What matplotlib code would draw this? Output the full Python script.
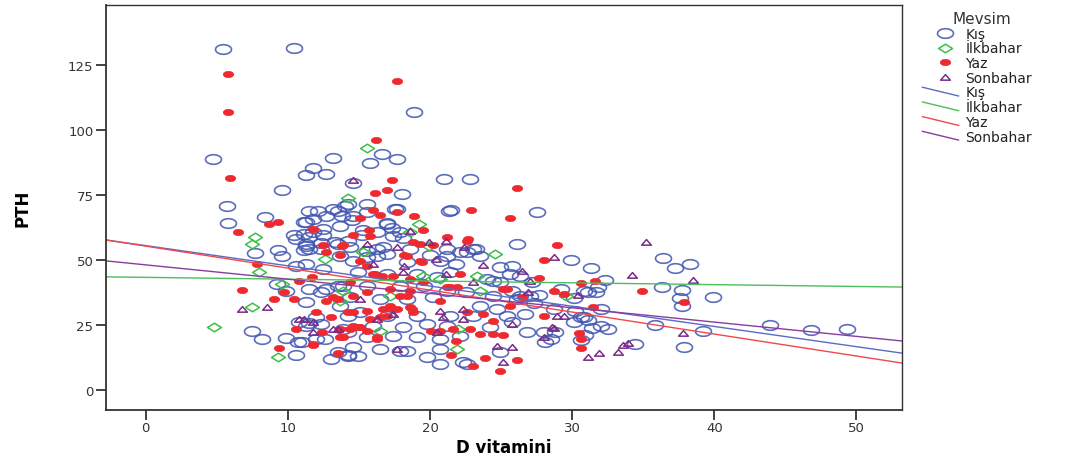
import numpy as np
import matplotlib.pyplot as plt
from matplotlib.path import Path
from matplotlib.lines import Line2D
from matplotlib.legend_handler import HandlerBase

# D vitamini / PTH values per season
kis_x = [5.4, 10.4, 18.9, 4.7, 13.2, 11.8, 11.3, 12.7, 9.6, 5.7, 5.8, 16.6, 15.8, 17.7, 14.6, 18.0,
         15.6, 8.4, 21.0, 22.8, 17.7, 21.3, 11.3, 11.8, 12.1, 12.7, 13.5, 13.8, 10.4, 10.6, 11.1, 11.5,
         11.3, 12.3, 12.5, 14.2, 13.3, 9.3, 7.7, 11.5, 11.1, 14.0, 15.6, 17.5, 21.5, 27.5, 14.5, 17.0,
         17.3, 15.3, 17.4, 18.1, 26.1, 14.2, 15.2, 16.3, 17.0, 20.0, 21.2, 22.6, 23.2, 9.6, 9.2, 9.9,
         11.3, 7.5, 8.2, 9.9, 10.7, 10.8, 11.5, 12.0, 12.6, 13.5, 14.2, 10.6, 11.3, 12.5, 11.5, 12.3,
         12.7, 13.5, 13.7, 14.2, 13.9, 13.7, 14.6, 15.6, 16.3, 18.4, 20.7, 21.8, 23.5, 25.8, 14.9, 17.0,
         19.1, 20.5, 21.4, 24.4, 26.3, 27.2, 13.9, 15.6, 17.9, 19.6, 21.2, 22.5, 24.4, 26.3, 14.4, 16.5,
         18.4, 20.2, 23.5, 24.7, 25.4, 26.7, 15.1, 17.0, 19.1, 21.4, 23.0, 16.0, 18.1, 19.8, 21.2, 24.2,
         25.8, 26.8, 14.2, 15.6, 17.4, 19.1, 20.7, 22.1, 14.6, 16.5, 18.4, 20.7, 19.8, 22.6, 14.2, 24.9,
         36.4, 29.9, 31.3, 37.2, 38.3, 32.3, 36.3, 37.7, 39.9, 37.6, 37.7, 27.7, 30.8, 31.7, 30.1, 27.3,
         30.2, 30.6, 31.1, 32.0, 32.5, 31.4, 35.8, 39.2, 28.0, 28.8, 28.5, 30.6, 30.9, 34.4, 37.9, 28.1,
         43.9, 46.8, 49.3, 11.5, 13.2, 14.6, 17.0, 16.3, 17.9, 11.1, 11.8, 12.5, 13.7, 11.3, 12.3, 13.5,
         14.4, 15.6, 16.7, 18.6, 21.2, 22.1, 23.0, 24.9, 25.6, 24.0, 24.9, 25.8, 27.0, 26.1, 29.2, 31.1,
         31.8, 32.0, 30.8, 30.1, 28.7, 22.3, 17.9, 14.9, 12.0, 11.0, 11.3, 12.3, 10.6, 13.0, 20.7]
kis_y = [131.2, 131.5, 106.9, 88.8, 89.2, 85.4, 82.7, 83.1, 76.9, 70.8, 64.2, 90.8, 87.3, 88.8, 79.6, 75.4,
         71.5, 66.5, 81.2, 81.2, 69.6, 68.8, 64.6, 65.8, 68.8, 66.9, 68.8, 66.9, 59.6, 58.1, 60.0, 58.8,
         56.2, 56.5, 59.6, 71.5, 56.9, 53.8, 52.7, 54.2, 53.8, 70.8, 68.5, 69.6, 69.2, 68.5, 65.4, 64.2,
         62.3, 61.5, 59.2, 58.5, 56.2, 57.3, 59.6, 54.2, 52.3, 51.9, 51.5, 53.1, 54.2, 51.5, 40.8, 38.1,
         33.8, 22.7, 19.6, 20.0, 18.5, 26.2, 25.8, 28.1, 19.6, 14.6, 13.5, 47.7, 48.5, 46.5, 38.8, 37.7,
         38.8, 40.0, 32.3, 28.5, 23.5, 51.5, 49.6, 51.2, 51.5, 49.2, 49.6, 48.5, 51.5, 47.7, 45.4, 44.6,
         44.6, 43.5, 45.4, 41.9, 43.8, 41.5, 40.0, 40.0, 40.0, 40.0, 38.1, 37.7, 36.2, 36.2, 35.8, 35.0,
         35.0, 35.8, 32.3, 31.2, 28.5, 29.2, 30.0, 28.5, 28.5, 28.5, 28.5, 24.6, 24.2, 25.4, 24.6, 24.2,
         26.2, 22.3, 22.3, 20.4, 20.8, 20.4, 19.6, 20.8, 16.5, 15.8, 15.0, 15.8, 12.7, 10.0, 13.1, 14.6,
         50.8, 50.0, 46.9, 46.9, 48.5, 42.3, 39.6, 38.5, 35.8, 35.4, 32.3, 36.5, 38.1, 37.7, 35.4, 33.5,
         30.4, 28.1, 26.9, 24.6, 23.5, 23.8, 25.0, 22.7, 22.3, 22.3, 19.6, 19.2, 21.2, 17.7, 16.5, 18.5,
         25.0, 23.1, 23.5, 68.8, 69.6, 66.9, 63.8, 60.8, 60.8, 64.6, 60.8, 61.9, 63.1, 55.4, 54.2, 56.2,
         55.0, 53.5, 55.0, 54.2, 54.2, 53.1, 54.2, 47.3, 44.6, 42.7, 41.5, 38.1, 36.2, 35.0, 38.8, 37.7,
         39.6, 31.2, 28.1, 26.2, 31.2, 10.8, 15.0, 13.1, 19.6, 18.5, 24.6, 25.4, 13.5, 11.9, 10.0]

ilk_x = [15.6, 14.2, 19.2, 7.7, 7.5, 18.6, 24.6, 15.3, 19.9, 8.0, 9.6, 7.5, 4.8, 9.3, 13.9, 23.3,
         23.5, 17.2, 22.0, 21.9, 16.5, 13.7, 19.5, 20.7, 12.6, 29.6]
ilk_y = [93.1, 73.8, 63.8, 58.8, 56.2, 60.8, 52.3, 53.1, 55.4, 45.4, 40.8, 31.9, 24.2, 12.7, 38.1, 43.8,
         38.1, 36.2, 23.5, 15.8, 22.7, 34.2, 43.8, 42.7, 50.4, 36.2]

yaz_x = [5.8, 17.7, 5.8, 5.9, 16.2, 17.3, 16.1, 17.0, 16.0, 16.5, 17.7, 18.9, 8.7, 9.3, 15.1, 6.5,
         11.8, 12.5, 13.8, 12.7, 13.7, 19.5, 26.1, 22.9, 25.6, 15.7, 14.6, 21.2, 18.8, 19.3, 20.2, 18.2,
         13.9, 7.8, 6.8, 9.0, 10.4, 9.7, 10.6, 12.0, 12.4, 11.8, 9.4, 13.5, 13.7, 13.0, 13.5, 12.7,
         19.4, 22.1, 16.0, 14.4, 18.6, 21.4, 17.4, 18.7, 17.0, 15.8, 14.2, 14.4, 14.9, 13.9, 16.3, 20.1,
         21.8, 22.8, 23.5, 24.4, 25.1, 23.7, 24.4, 25.4, 26.5, 25.6, 21.5, 23.0, 23.9, 24.9, 26.1, 22.6,
         20.7, 19.5, 17.9, 28.9, 28.0, 27.7, 30.6, 31.6, 28.7, 29.4, 34.9, 37.9, 31.5, 28.0, 30.5, 30.6,
         30.6, 15.8, 22.6, 18.4, 19.3, 15.6, 16.1, 16.6, 17.4, 18.6, 21.2, 21.9, 25.1, 13.2, 14.6, 15.6,
         16.7, 17.2, 17.7, 18.6, 18.8, 14.6, 13.7, 14.6, 15.1, 15.6, 16.3, 11.8, 20.7, 21.6, 15.6, 16.5,
         17.2, 18.4, 22.7, 15.1, 10.8, 11.7]
yaz_y = [121.5, 118.8, 106.9, 81.5, 96.2, 80.8, 75.8, 76.9, 69.2, 67.3, 68.5, 66.9, 63.8, 64.6, 66.2, 60.8,
         61.9, 55.8, 55.4, 53.1, 51.9, 61.5, 77.7, 69.2, 66.2, 61.5, 59.6, 58.8, 56.9, 56.2, 55.8, 51.9,
         55.8, 48.5, 38.5, 35.0, 35.0, 37.7, 23.5, 30.0, 22.3, 17.3, 16.2, 14.2, 20.4, 28.1, 35.0, 34.2,
         49.2, 44.6, 44.6, 41.5, 38.1, 39.6, 31.2, 31.2, 28.5, 27.3, 30.0, 23.5, 24.2, 20.4, 19.6, 22.7,
         18.8, 23.5, 21.5, 21.5, 21.2, 29.2, 26.5, 38.8, 35.8, 32.3, 13.5, 9.2, 12.3, 7.3, 11.5, 30.0,
         34.2, 41.5, 36.2, 55.8, 50.0, 43.1, 41.2, 41.9, 38.1, 36.9, 38.1, 33.8, 31.9, 28.5, 21.9, 19.6,
         16.2, 59.2, 57.3, 51.5, 49.6, 47.7, 44.6, 43.8, 43.8, 42.7, 39.6, 39.6, 38.8, 35.8, 36.2, 37.7,
         31.2, 32.3, 31.2, 31.9, 30.0, 30.0, 23.5, 24.6, 24.2, 22.7, 20.4, 17.7, 22.7, 23.5, 30.4, 28.1,
         38.8, 36.2, 58.1, 49.6, 41.9, 43.5]

son_x = [14.6, 17.7, 19.9, 21.1, 22.4, 6.8, 8.5, 11.1, 11.8, 13.5, 16.0, 20.4, 18.2, 23.7, 21.1, 26.5,
         27.0, 26.9, 25.8, 20.7, 20.9, 22.3, 24.7, 25.8, 25.1, 17.7, 20.5, 16.3, 35.2, 28.7, 34.2, 38.5,
         30.4, 28.9, 29.4, 28.7, 28.0, 37.8, 33.9, 33.6, 33.2, 31.9, 31.1, 18.6, 22.3, 23.0, 28.6, 17.4,
         15.1, 11.8, 10.8, 13.2, 15.6, 18.1]
son_y = [80.8, 55.0, 56.9, 57.3, 55.0, 31.2, 31.9, 27.3, 22.3, 23.5, 48.5, 50.4, 47.7, 48.1, 44.6, 45.8,
         41.9, 37.7, 25.4, 30.4, 28.1, 27.3, 16.9, 16.5, 10.8, 15.8, 22.3, 27.3, 56.9, 51.2, 44.2, 42.3,
         36.5, 28.5, 28.5, 23.8, 20.4, 21.9, 18.1, 17.3, 14.6, 14.2, 12.7, 61.2, 31.2, 41.5, 24.2, 29.2,
         35.0, 26.2, 27.3, 23.5, 56.2, 45.4]

seasons = ["Kış", "İlkbahar", "Yaz", "Sonbahar"]
# fit lines (intercept, slope) per season
fit_b = [55.5, 43.3, 55.3, 48.1]
fit_m = [-0.777, -0.07, -0.845, -0.55]

yticks = [0, 25, 50, 75, 100, 125]
xticks = [0, 10, 20, 30, 40, 50]


def ellipse(r=0.6, n=40):
    t = np.linspace(0, 2 * np.pi, n)
    v = np.column_stack([np.cos(t), r * np.sin(t)])
    return Path(v, closed=True)


circ = ellipse(0.6)
diam = Path([(0, 0.62), (1, 0), (0, -0.62), (-1, 0), (0, 0.62)], closed=True)
tri = Path([(-1, -0.55), (1, -0.55), (0, 0.6), (-1, -0.55)], closed=True)
dot = ellipse(0.6)

pt_colors = ["#3F55B0", "#3CBF48", "#EE2A30", "#7A2C88"]
ln_colors = ["#5A6BC4", "#4CC05A", "#F0484C", "#8A3C9C"]


class SlopedLine(HandlerBase):
    def create_artists(self, legend, orig_handle, xdescent, ydescent, width, height, fontsize, trans):
        ln = Line2D([-xdescent - 6, -xdescent + width], [height * 0.95 - ydescent, 0.05 * height - ydescent],
                    color=orig_handle.get_color(), lw=1.0, transform=trans)
        return [ln]


fig = plt.figure(figsize=(10.66, 4.56), dpi=100)
ax = fig.add_axes([0.0994, 0.0987, 0.7467, 0.888])

h1, = ax.plot(kis_x, kis_y, ls="none", marker=circ, ms=11.5, mfc="none", mec=pt_colors[0], mew=1.2, alpha=0.85)
h2, = ax.plot(ilk_x, ilk_y, ls="none", marker=diam, ms=10, mfc="none", mec=pt_colors[1], mew=1.1)
h3, = ax.plot(yaz_x, yaz_y, ls="none", marker=dot, ms=7.5, mfc=pt_colors[2], mec=pt_colors[2], mew=0.5)
h4, = ax.plot(son_x, son_y, ls="none", marker=tri, ms=7, mfc="none", mec=pt_colors[3], mew=1.1)

line_handles = []
for b, m, c in zip(fit_b, fit_m, ln_colors):
    ax.axline((0, b), slope=m, color=c, lw=1.0)
    line_handles.append(Line2D([], [], color=c))

ax.set_xlim(-2.8, 53.2)
ax.set_ylim(-7.7, 148)
ax.set_xticks(xticks)
ax.set_yticks(yticks)
ax.tick_params(direction="out", length=7, width=1.2, colors="#222222", labelsize=9.5, labelcolor="#333333")
ax.tick_params(axis="x", pad=1)
ax.tick_params(axis="y", pad=2)
for s in ax.spines.values():
    s.set_color("#333333")
    s.set_linewidth(1.0)
ax.spines["left"].set_linewidth(1.3)
ax.spines["bottom"].set_linewidth(1.3)

ax.set_xlabel("D vitamini", fontsize=12, fontweight="bold", labelpad=3)
ax.set_ylabel("PTH", fontsize=12, fontweight="bold", labelpad=26)

hm = {h: SlopedLine() for h in line_handles}
leg = fig.legend([h1, h2, h3, h4] + line_handles, seasons + seasons, title="Mevsim",
                 loc="upper left", bbox_to_anchor=(0.864, 0.995), frameon=False,
                 fontsize=10, title_fontsize=11, labelspacing=0.05, handlelength=2.0,
                 handletextpad=0.5, borderpad=0.2, numpoints=1, handler_map=hm)
for t in leg.get_texts():
    t.set_color("#222222")
leg.get_title().set_color("#333333")

fig.savefig("out.png", dpi=100)
